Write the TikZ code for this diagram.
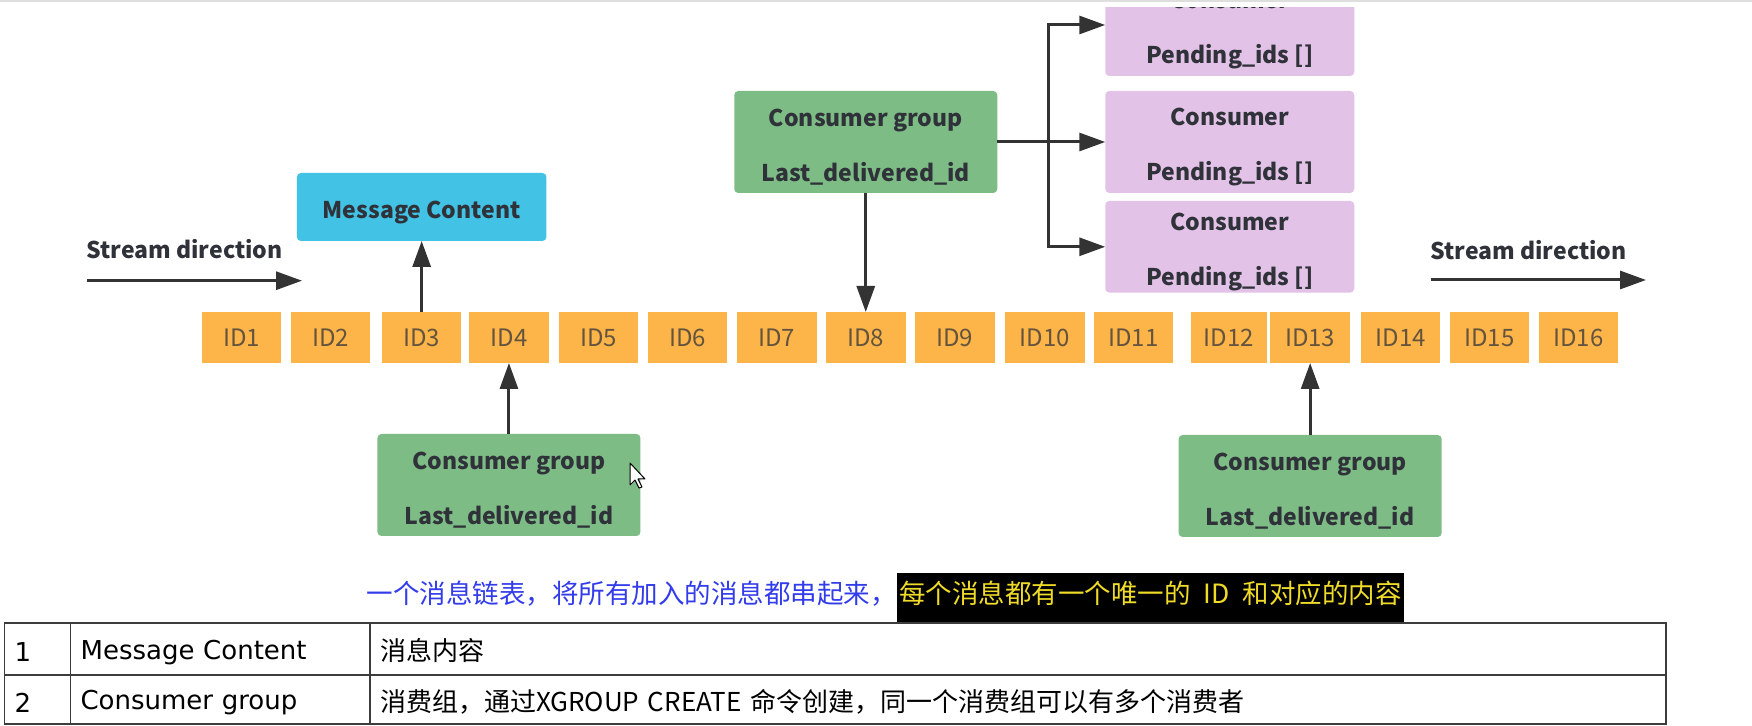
\documentclass[tikz,border=0pt]{standalone}
\usepackage{fontspec}
\setmainfont{Noto Sans CJK SC}
\newfontfamily\tblfont{DejaVu Sans}
\usepackage{tikz}
\usetikzlibrary{arrows.meta,positioning}
\definecolor{storange}{RGB}{253,181,74}
\definecolor{stcyan}{RGB}{66,194,228}
\definecolor{stgreen}{RGB}{126,188,134}
\definecolor{stpurple}{RGB}{227,194,232}
\definecolor{stdark}{RGB}{51,51,51}
\definecolor{stlabel}{RGB}{48,50,58}
\definecolor{stidtext}{RGB}{100,84,62}
\definecolor{stblue}{RGB}{50,60,235}
\definecolor{styellow}{RGB}{240,220,40}
\definecolor{stgrid}{RGB}{60,60,60}
\definecolor{stedge}{RGB}{222,222,222}
\newcommand{\boxstrut}{\rule{0pt}{28pt}}
\newcommand{\cellstrut}{\rule{0pt}{26pt}}
\tikzset{
  idbox/.style={fill=storange, minimum width=79.5pt, minimum height=51pt, inner sep=0pt, outer sep=0pt, text=stidtext, font=\fontsize{24}{28}\selectfont},
  stbox/.style={rounded corners=4pt, inner sep=0pt, outer sep=0pt, align=center, text=stlabel, font=\fontsize{23}{55}\selectfont\bfseries},
  msgbox/.style={stbox, fill=stcyan, minimum width=249.5pt, minimum height=68pt, execute at begin node=\boxstrut},
  groupbox/.style={stbox, fill=stgreen, minimum width=263pt, minimum height=102pt},
  consbox/.style={stbox, fill=stpurple, minimum width=249pt, minimum height=102pt},
  flowarr/.style={-{Triangle[length=26pt,width=18pt]}, line width=3pt, draw=stdark},
  streamtxt/.style={text=stlabel, font=\fontsize{23}{28}\selectfont\bfseries, inner sep=0pt},
  tcell/.style={draw=stgrid, line width=1.5pt, anchor=north west, inner xsep=10pt, inner ysep=0pt, outer sep=0pt, align=left, font=\fontsize{26}{30}\selectfont, execute at begin node=\cellstrut},
  captxt/.style={inner sep=0pt, font=\fontsize{26.5}{30}\selectfont}
}

\begin{document}
\begin{tikzpicture}[x=1pt, y=1pt, node distance=10pt]
  \useasboundingbox[fill=white] (0,0) rectangle (1752,725);
  \draw[stedge, line width=2pt] (0,724) -- (1752,724);

  % the stream
  \node[idbox] (id1) at (241.45,387.5) {ID1};
  \node[idbox, right=9.7pt of id1] (id2) {ID2};
  \node[idbox, right=11.5pt of id2] (id3) {ID3};
  \node[idbox, right=7.8pt of id3] (id4) {ID4};
  \node[idbox, right=10pt of id4] (id5) {ID5};
  \node[idbox, right=9.6pt of id5] (id6) {ID6};
  \node[idbox, right=9.7pt of id6] (id7) {ID7};
  \node[idbox, right=9.5pt of id7] (id8) {ID8};
  \node[idbox, right=9.5pt of id8] (id9) {ID9};
  \node[idbox, right=10.5pt of id9] (id10) {ID10};
  \node[idbox, right=9.2pt of id10] (id11) {ID11};
  \node[idbox, minimum width=76pt, right=17.4pt of id11] (id12) {ID12};
  \node[idbox, right=3.8pt of id12] (id13) {ID13};
  \node[idbox, right=11pt of id13] (id14) {ID14};
  \node[idbox, right=9.2pt of id14] (id15) {ID15};
  \node[idbox, right=9.6pt of id15] (id16) {ID16};

  % stream direction
  \coordinate (sl0) at (87,444.3);
  \coordinate (sl1) at (302,444.3);
  \draw[flowarr] (sl0) -- (sl1);
  \node[streamtxt] (sltxt) at (184.5,476) {Stream direction};
  \coordinate (sr0) at (1431,445);
  \coordinate (sr1) at (1646,445);
  \draw[flowarr] (sr0) -- (sr1);
  \node[streamtxt] (srtxt) at (1528.5,475) {Stream direction};

  % content and groups
  \node[msgbox, above=71pt of id3] (msg) {Message Content};
  \node[groupbox, above=119pt of id8] (cgtop) {\boxstrut Consumer group\\Last\_delivered\_id};
  \node[groupbox, below=71pt of id4] (cgleft) {\boxstrut Consumer group\\Last\_delivered\_id};
  \node[groupbox, below=72pt of id13] (cgright) {\boxstrut Consumer group\\Last\_delivered\_id};
  \draw[flowarr] (id3) -- (msg);
  \draw[flowarr] (cgtop) -- (id8);
  \draw[flowarr] (cgleft) -- (id4);
  \draw[flowarr] (cgright) -- (id13);

  % consumers
  \node[consbox, right=108pt of cgtop] (cmid) {\boxstrut Consumer\\Pending\_ids []};
  \node[consbox, minimum height=91.6pt, below=8pt of cmid] (cbot) {\boxstrut Consumer\\Pending\_ids []};
  \begin{scope}
    \clip (0,0) rectangle (1752,717);
    \node[consbox, above=15pt of cmid] (ctop) {\boxstrut Consumer\\Pending\_ids []};
  \end{scope}
  \coordinate[right=51pt of cgtop] (fork);
  \draw[flowarr] (cgtop) -- (cmid);
  \draw[flowarr] (fork) |- (ctop);
  \draw[flowarr] (fork) |- (cbot);

  % pointer
  \draw[fill=white, line width=1pt, line join=round] (630,262) -- ++(0,-22) -- ++(5,5) -- ++(4,-8) -- ++(3,1) -- ++(-4,8) -- ++(7,0) -- cycle;

  % caption
  \node[captxt, fill=black, anchor=north west, inner xsep=2pt, text height=30pt, text depth=20pt, minimum width=505pt, text=styellow] (hl) at (897,152) {每个消息都有一个唯一的\hspace{13pt}ID\hspace{13pt}和对应的内容};
  \node[captxt, text=stblue, anchor=base east] (capblue) at (hl.base west) {一个消息链表，将所有加入的消息都串起来，};

  % table
  \node[tcell, text width=46pt, minimum height=52pt] (c11) at (4.6,102) {\tblfont 1};
  \node[tcell, text width=279.4pt, minimum height=52pt, right=0pt of c11] (c12) {\tblfont Message Content};
  \node[tcell, text width=1276pt, minimum height=52pt, right=0pt of c12] (c13) {消息内容};
  \node[tcell, text width=46pt, minimum height=49pt, below=0pt of c11] (c21) {\tblfont 2};
  \node[tcell, text width=279.4pt, minimum height=49pt, below=0pt of c12] (c22) {\tblfont Consumer group};
  \node[tcell, text width=1276pt, minimum height=49pt, below=0pt of c13] (c23) {消费组，通过XGROUP CREATE 命令创建，同一个消费组可以有多个消费者};
\end{tikzpicture}
\end{document}
